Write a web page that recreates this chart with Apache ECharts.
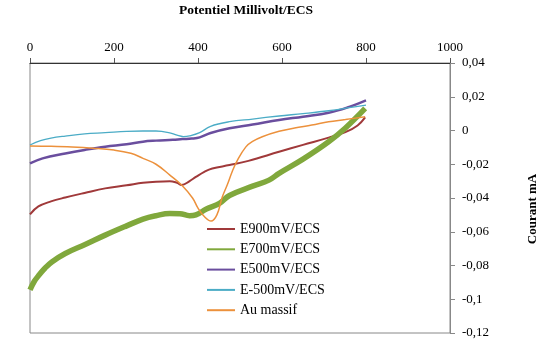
<!DOCTYPE html>
<html>
<head>
<meta charset="utf-8">
<script src="https://cdn.jsdelivr.net/npm/echarts@6/dist/echarts.min.js"></script>
<style>
  html, body { margin: 0; padding: 0; background: #fff; }
  #chart { width: 558px; height: 356px; }
</style>
</head>
<body>
<div id="chart"></div>
<script>
  // courbes : [potentiel mV, courant mA]
  const e900 = [
    [0, -0.0497], [20, -0.045], [50, -0.042], [84, -0.0397], [130, -0.037],
    [179, -0.0343], [230, -0.0325], [269, -0.031], [300, -0.0303], [333, -0.030],
    [350, -0.031], [361, -0.0323], [380, -0.030], [395, -0.0275], [415, -0.0245],
    [434, -0.0225], [475, -0.0205], [520, -0.018], [593, -0.0126], [650, -0.0085],
    [711, -0.0042], [751, -0.001], [780, 0.003], [798, 0.0078]
  ];
  const e700 = [
    [0, -0.0945], [10, -0.0895], [21, -0.0858], [36, -0.0815], [52, -0.0779],
    [84, -0.0729], [130, -0.0677], [179, -0.062], [230, -0.0565], [269, -0.0525],
    [300, -0.0505], [333, -0.0492], [357, -0.0493], [380, -0.0505], [395, -0.050],
    [420, -0.0465], [451, -0.0432], [475, -0.0385], [530, -0.033], [569, -0.0294],
    [593, -0.0254], [650, -0.017], [711, -0.0067], [751, 0.0015], [798, 0.0131]
  ];
  const e500 = [
    [0, -0.0195], [30, -0.0165], [84, -0.0136], [130, -0.0115], [179, -0.0096],
    [230, -0.0082], [269, -0.0066], [300, -0.006], [340, -0.0055], [363, -0.0051],
    [385, -0.0048], [404, -0.0041], [430, -0.0015], [475, 0.0013], [530, 0.0035],
    [593, 0.0062], [650, 0.0082], [711, 0.0105], [760, 0.014], [800, 0.0178]
  ];
  const eM500 = [
    [0, -0.0086], [25, -0.006], [50, -0.0045], [84, -0.0033], [130, -0.002],
    [179, -0.0013], [230, -0.0005], [269, -0.0003], [300, -0.0003], [330, -0.0012],
    [350, -0.0028], [365, -0.0036], [380, -0.0032], [404, -0.0013], [430, 0.0025],
    [475, 0.0052], [530, 0.0068], [593, 0.0086], [650, 0.01], [711, 0.0117],
    [760, 0.0135], [800, 0.0151]
  ];
  const auMassif = [
    [0, -0.0092], [50, -0.0094], [100, -0.0098], [150, -0.0105], [200, -0.0116],
    [240, -0.0135], [269, -0.0165], [300, -0.02], [333, -0.0264], [361, -0.0323],
    [387, -0.04], [400, -0.046], [415, -0.051], [431, -0.0537], [445, -0.05],
    [458, -0.0393], [470, -0.032], [482, -0.024], [494, -0.0175], [514, -0.0097],
    [530, -0.0065], [553, -0.0037], [593, -0.0005], [630, 0.0015], [671, 0.0032],
    [711, 0.0052], [751, 0.0065], [798, 0.0082]
  ];

  const seriesNames = ['E900mV/ECS', 'E700mV/ECS', 'E500mV/ECS', 'E-500mV/ECS', 'Au massif'];
  const seriesData = [e900, e700, e500, eM500, auMassif];
  const colors = ['#a0393a', '#80a83c', '#6a4e9e', '#4bacc6', '#ec913c'];
  const widths = [2, 5.5, 2.5, 1.3, 1.5];

  const serif = '"Liberation Serif", "DejaVu Serif", serif';

  const chart = echarts.init(document.getElementById('chart'));

  const option = {
    animation: false,
    backgroundColor: '#fff',
    grid: {
      left: 30, right: 108, top: 63, bottom: 23,
      show: true, borderColor: '#888', borderWidth: 1
    },
    legend: {
      orient: 'vertical',
      left: 202,
      top: 216,
      icon: 'rect',
      itemWidth: 28,
      itemHeight: 2,
      itemGap: 4.3,
      textStyle: { fontFamily: serif, fontSize: 14, color: '#000', lineHeight: 16 },
      data: seriesNames
    },
    graphic: [
      {
        type: 'text', x: 246, y: 4,
        style: { text: 'Potentiel Millivolt/ECS', font: 'bold 13.5px ' + serif, fill: '#000', align: 'center' }
      },
      {
        type: 'text', x: 533, y: 209, rotation: Math.PI / 2,
        style: { text: 'Courant mA', font: 'bold 13px ' + serif, fill: '#000', align: 'center', verticalAlign: 'middle' }
      }
    ],
    xAxis: {
      type: 'value',
      position: 'top',
      min: 0, max: 1000, interval: 200,
      axisLine: { show: true, onZero: false, lineStyle: { color: '#333', width: 1 } },
      axisTick: { show: true, inside: false, length: 5, lineStyle: { color: '#555' } },
      axisLabel: { fontFamily: serif, fontSize: 13, color: '#000', margin: 9, formatter: v => String(v) },
      splitLine: { show: false }
    },
    yAxis: {
      type: 'value',
      position: 'right',
      min: -0.12, max: 0.04, interval: 0.02,
      axisLine: { show: true, onZero: false, lineStyle: { color: '#888', width: 1 } },
      axisTick: { show: true, inside: false, length: 5, lineStyle: { color: '#888' } },
      axisLabel: {
        fontFamily: serif, fontSize: 13, color: '#000', margin: 12,
        formatter: v => (Math.abs(v) < 1e-9 ? '0' : String(+v.toFixed(2)).replace('.', ','))
      },
      splitLine: { show: false }
    },
    series: seriesNames.map((name, i) => ({
      name: name,
      type: 'line',
      data: seriesData[i],
      smooth: 0.4,
      symbol: 'none',
      color: colors[i],
      lineStyle: { color: colors[i], width: widths[i] }
    }))
  };

  chart.setOption(option);
</script>
</body>
</html>
